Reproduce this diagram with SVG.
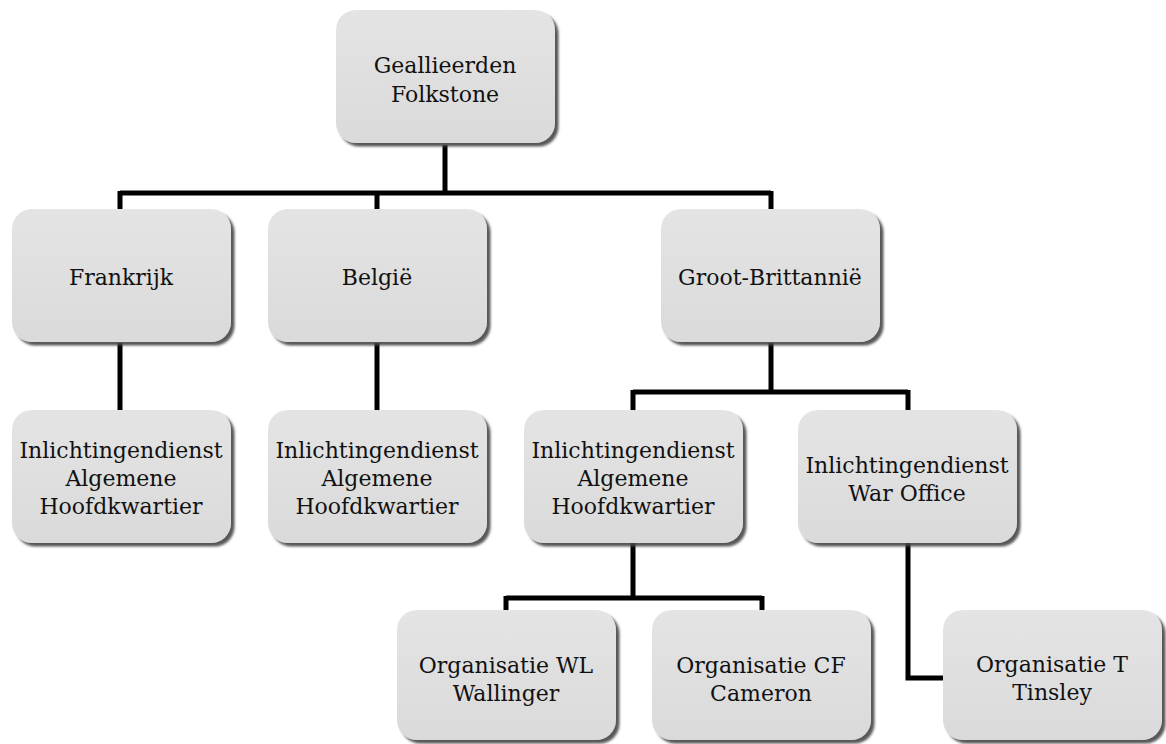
<svg xmlns="http://www.w3.org/2000/svg" width="1166" height="744" viewBox="0 0 1166 744">
<defs>
<filter id="sh" x="-10%" y="-10%" width="130%" height="130%">
<feDropShadow dx="3.5" dy="3.5" stdDeviation="1.3" flood-color="#444" flood-opacity="0.9"/>
</filter>
<linearGradient id="g" x1="0" y1="0" x2="0" y2="1">
<stop offset="0" stop-color="#e4e4e4"/>
<stop offset="1" stop-color="#dadada"/>
</linearGradient>
</defs>
<style>
.box{fill:url(#g);filter:url(#sh);}
.t{font-family:"DejaVu Serif","Liberation Serif",serif;font-size:22px;fill:#111;text-anchor:middle;}
.c{fill:none;stroke:#000;stroke-width:5;stroke-linejoin:miter;stroke-linecap:butt;}
</style>
<rect width="1166" height="744" fill="#fff"/>
<g id="connectors">
<path class="c" d="M445 145V193M120 193H771M120 191V211M377 191V211M771 191V211"/>
<path class="c" d="M120 343V412"/>
<path class="c" d="M377 343V412"/>
<path class="c" d="M771 343V392M633 392H908M633 390V412M908 390V412"/>
<path class="c" d="M633 543V598M506 598H762M506 596V612M762 596V612"/>
<path class="c" d="M908 543V678H945"/>
</g>
<g id="n-folkstone"><rect class="box" x="336" y="10" width="219" height="133" rx="20"/><text class="t" x="445" y="73">Geallieerden</text><text class="t" x="445" y="102">Folkstone</text></g>
<g id="n-frankrijk"><rect class="box" x="12" y="209" width="219" height="133" rx="20"/><text class="t" x="121" y="285">Frankrijk</text></g>
<g id="n-belgie"><rect class="box" x="268" y="209" width="219" height="133" rx="20"/><text class="t" x="377" y="285">België</text></g>
<g id="n-gb"><rect class="box" x="661" y="209" width="219" height="133" rx="20"/><text class="t" x="770" y="285">Groot-Brittannië</text></g>
<g id="n-fr-ia"><rect class="box" x="12" y="410" width="219" height="133" rx="20"/><text class="t" x="121" y="458">Inlichtingendienst</text><text class="t" x="121" y="486">Algemene</text><text class="t" x="121" y="514">Hoofdkwartier</text></g>
<g id="n-be-ia"><rect class="box" x="268" y="410" width="219" height="133" rx="20"/><text class="t" x="377" y="458">Inlichtingendienst</text><text class="t" x="377" y="486">Algemene</text><text class="t" x="377" y="514">Hoofdkwartier</text></g>
<g id="n-gb-ia"><rect class="box" x="524" y="410" width="219" height="133" rx="20"/><text class="t" x="633" y="458">Inlichtingendienst</text><text class="t" x="633" y="486">Algemene</text><text class="t" x="633" y="514">Hoofdkwartier</text></g>
<g id="n-gb-wo"><rect class="box" x="798" y="410" width="219" height="133" rx="20"/><text class="t" x="907" y="473">Inlichtingendienst</text><text class="t" x="907" y="501">War Office</text></g>
<g id="n-wl"><rect class="box" x="397" y="610" width="219" height="130" rx="20"/><text class="t" x="506" y="673">Organisatie WL</text><text class="t" x="506" y="701">Wallinger</text></g>
<g id="n-cf"><rect class="box" x="652" y="610" width="219" height="130" rx="20"/><text class="t" x="761" y="673">Organisatie CF</text><text class="t" x="761" y="701">Cameron</text></g>
<g id="n-t"><rect class="box" x="943" y="610" width="219" height="130" rx="20"/><text class="t" x="1052" y="672">Organisatie T</text><text class="t" x="1052" y="700">Tinsley</text></g>
</svg>
